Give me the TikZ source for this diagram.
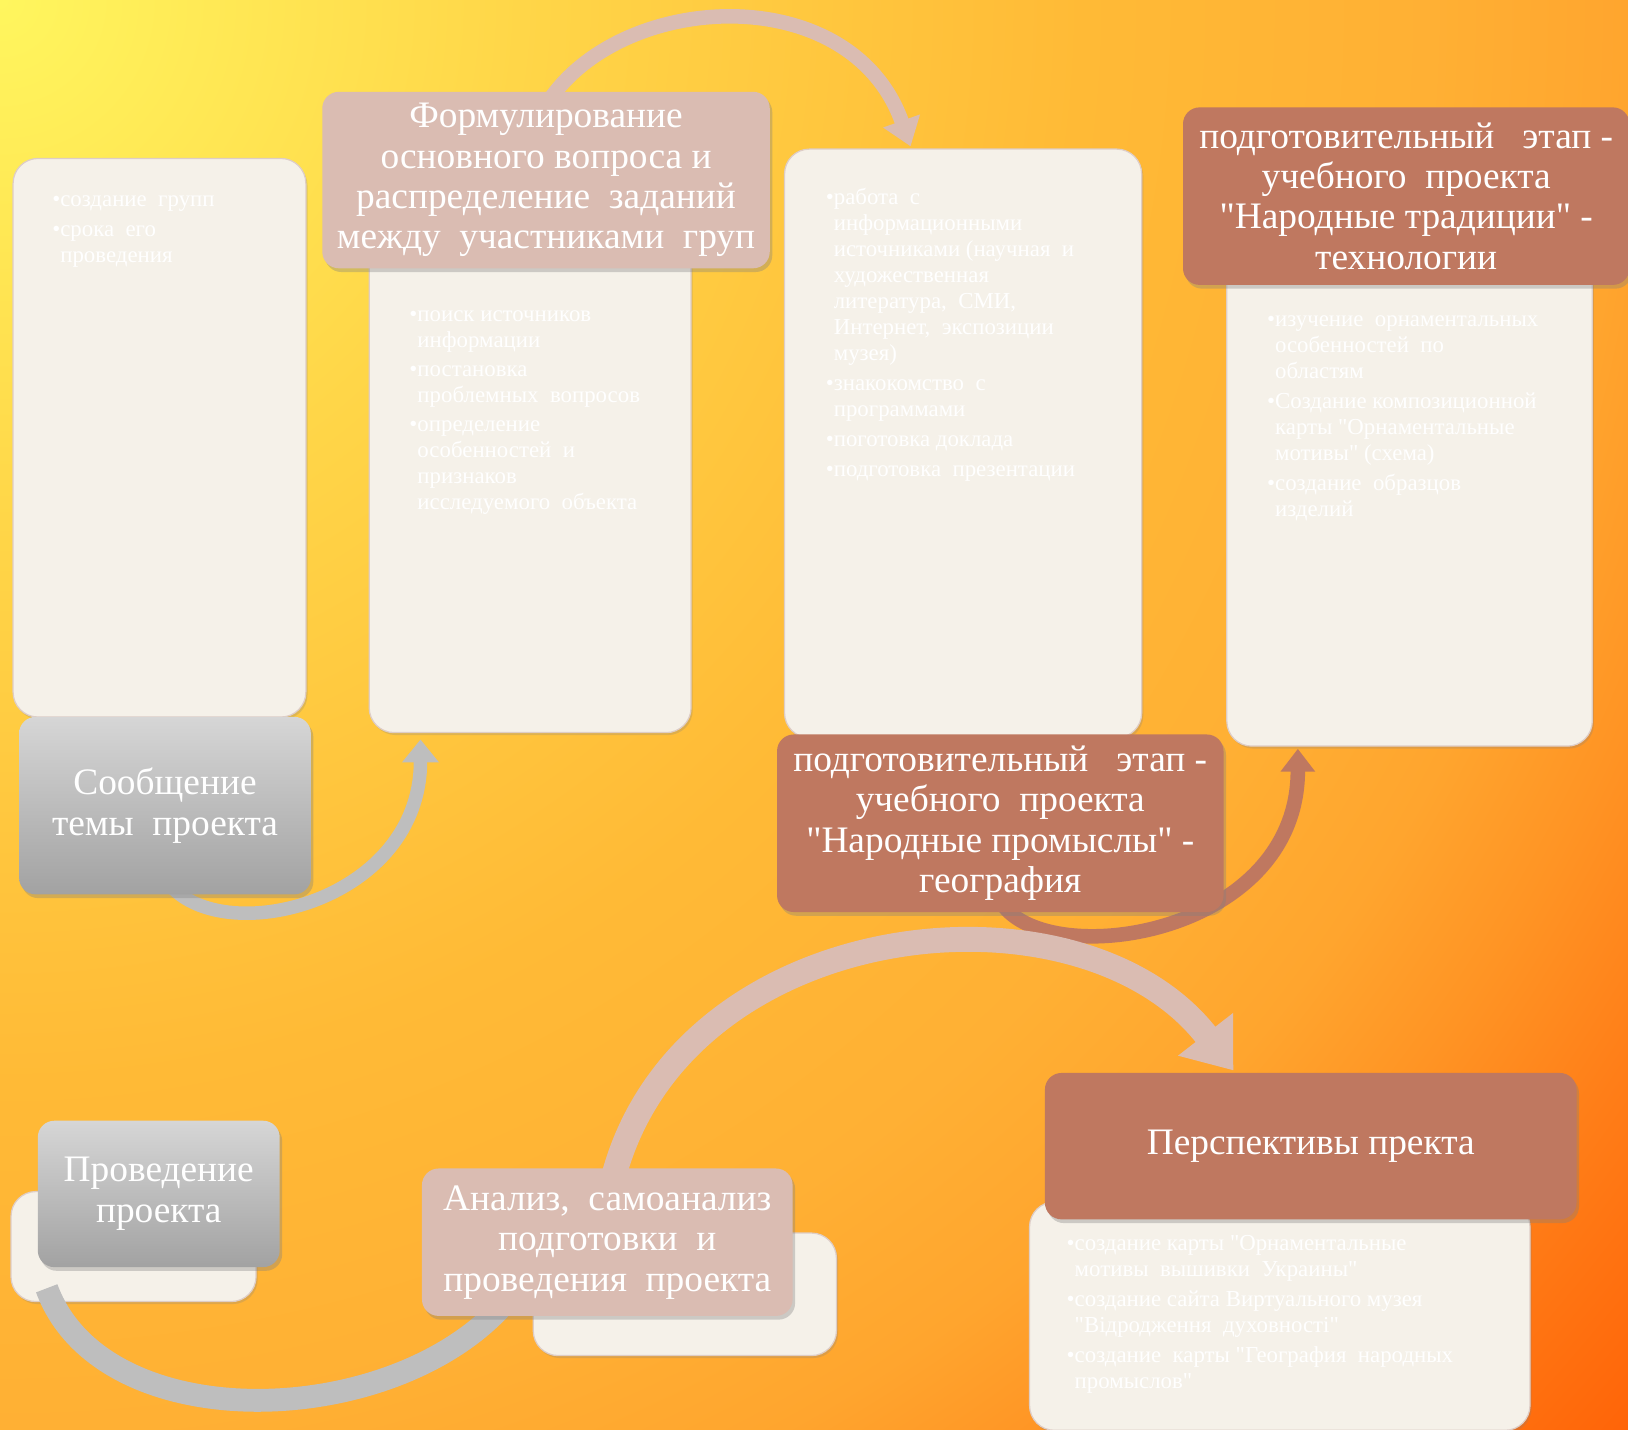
\documentclass[tikz,border=0pt]{standalone}
\usepackage{fontspec}
\setmainfont{Liberation Serif}[Ligatures=TeXOff]
\usetikzlibrary{arrows.meta, positioning, calc, shadows, backgrounds}

\pgfdeclarelayer{cards}
\pgfdeclarelayer{links}
\pgfsetlayers{background,cards,links,main}

% Background glow, from the top left corner
\definecolor{bgA}{RGB}{255,246,94}
\definecolor{bgB}{RGB}{255,214,72}
\definecolor{bgC}{RGB}{255,186,54}
\definecolor{bgD}{RGB}{255,176,52}
\definecolor{bgE}{RGB}{255,165,46}
\definecolor{bgF}{RGB}{255,148,36}
\definecolor{bgG}{RGB}{255,126,24}
\definecolor{bgH}{RGB}{255,100,8}
\pgfdeclareradialshading{bgglow}{\pgfpoint{0bp}{0bp}}{color(0bp)=(bgA); color(6bp)=(bgB); color(12.5bp)=(bgC); color(16.5bp)=(bgD); color(18.8bp)=(bgE); color(20.5bp)=(bgF); color(22.4bp)=(bgG); color(25bp)=(bgH); color(50bp)=(bgH)}

\newcommand{\bl}{\textbullet}
\newcommand{\ind}{\hphantom{\textbullet}}

\begin{document}
\begin{tikzpicture}[x=0.5pt, y=-0.5pt,
    card/.style={rectangle, rounded corners=12pt, draw=cardline, line width=0.6pt, fill=cardcolor, inner sep=0pt, anchor=north west,
        drop shadow={shadow xshift=0.8pt, shadow yshift=-1.2pt, opacity=0.25}},
    head/.style={rectangle, rounded corners=8pt, inner sep=0pt, anchor=north west, text=white, align=center,
        font=\fontsize{18}{19.5}\selectfont,
        drop shadow={shadow xshift=1.2pt, shadow yshift=-1.8pt, opacity=0.35}},
    greyhead/.style={head, top color=greytop, bottom color=greybot},
    pinkhead/.style={head, fill=pinkcolor},
    brownhead/.style={head, fill=browncolor},
    note/.style={anchor=north west, inner sep=0pt, text=white, align=left, font=\fontsize{11}{12.5}\selectfont},
    flow/.style={line cap=butt}]

    % Define colors
    \definecolor{cardcolor}{RGB}{245,241,233}
    \definecolor{cardline}{RGB}{222,205,198}
    \definecolor{greytop}{RGB}{214,214,214}
    \definecolor{greybot}{RGB}{162,162,162}
    \definecolor{pinkcolor}{RGB}{218,188,178}
    \definecolor{browncolor}{RGB}{191,120,96}
    \definecolor{greyband}{RGB}{190,190,190}

    % Background
    \useasboundingbox (0,0) rectangle (1568,1377);
    \begin{pgfonlayer}{background}
    \begin{scope}
    \clip (0,0) rectangle (1568,1377);
    \shade[shading=bgglow] (0,0) circle[radius=2087];
    \end{scope}
    \end{pgfonlayer}

    % Cards
    \begin{pgfonlayer}{cards}
    \node[card, minimum width=141pt, minimum height=269pt] (c1) at (12,152) {};
    \node[card, minimum width=155pt, minimum height=235pt] (c2) at (355,235) {};
    \node[card, minimum width=172pt, minimum height=283.5pt] (c3) at (755,143) {};
    \node[card, minimum width=176pt, minimum height=234pt] (c4) at (1181,250) {};
    \node[card, minimum width=118pt, minimum height=53pt] (c5) at (10,1147) {};
    \node[card, minimum width=146pt, minimum height=59pt] (c6) at (513,1187) {};
    \node[card, minimum width=241pt, minimum height=110pt] (c7) at (991,1157) {};
    \end{pgfonlayer}

    % Stage titles
    \node[greyhead, minimum width=140.5pt, minimum height=85.5pt] (t1) at (18,690) {Сообщение\\темы~ проекта};
    \node[pinkhead, minimum width=215.5pt, minimum height=85pt] (t2) at (310,88) {Формулирование\\основного вопроса и\\распределение~ заданий\\между~ участниками~ груп};
    \node[brownhead, minimum width=215pt, minimum height=85.5pt] (t3) at (748,707) {подготовительный~~ этап -\\учебного~ проекта\\"Народные промыслы" -\\география};
    \node[brownhead, minimum width=215pt, minimum height=85.5pt] (t4) at (1139,103) {подготовительный~~ этап -\\учебного~ проекта\\"Народные традиции" -\\технологии};
    \node[greyhead, minimum width=116.5pt, minimum height=70.5pt] (t5) at (36,1079) {Проведение\\проекта};
    \node[pinkhead, minimum width=178.5pt, minimum height=71pt] (t6) at (406,1125) {Анализ,~ самоанализ\\подготовки~ и\\проведения~ проекта};
    \node[brownhead, minimum width=256pt, minimum height=70.5pt] (t7) at (1006,1033) {Перспективы пректа};

    % Card texts
    \node[note] (n1) at ([xshift=19pt, yshift=-18pt]c1.north west) {\bl создание~ групп\\[2pt]\bl срока~ его\\\ind проведения};
    \node[note] (n2) at ([xshift=19.5pt, yshift=-32pt]c2.north west) {\bl поиск источников\\\ind информации\\[1.5pt]\bl постановка\\\ind проблемных~ вопросов\\[1.5pt]\bl определение\\\ind особенностей~ и\\\ind признаков\\\ind исследуемого~ объекта};
    \node[note] (n3) at ([xshift=20pt, yshift=-19pt]c3.north west) {\bl работа~ с\\\ind информационными\\\ind источниками (научная~ и\\\ind художественная\\\ind литература,~ СМИ,\\\ind Интернет,~ экспозиции\\\ind музея)\\[2pt]\bl знакокомство~ с\\\ind программами\\[2pt]\bl поготовка доклада\\[2pt]\bl подготовка~ презентации};
    \node[note] (n4) at ([xshift=19.5pt, yshift=-27pt]c4.north west) {\bl изучение~ орнаментальных\\\ind особенностей~ по\\\ind областям\\[2pt]\bl Создание композиционной\\\ind карты "Орнаментальные\\\ind мотивы" (схема)\\[2pt]\bl создание~ образцов\\\ind изделий};
    \node[note] (n7) at ([xshift=18pt, yshift=-16pt]c7.north west) {\bl создание карты "Орнаментальные\\\ind мотивы~ вышивки~ Украины"\\[2pt]\bl создание сайта Виртуального музея\\\ind "Відродження~ духовності"\\[2pt]\bl создание~ карты "География~ народных\\\ind промыслов"};

    % Arrows between the stages
    \begin{pgfonlayer}{links}
    \draw[flow, draw=greyband, line width=6.5pt, -{Triangle[length=11pt, width=17pt]}]
        ([xshift=3pt, yshift=4pt]t1.south) .. controls +(55,60) and +(0,155) .. ([xshift=25pt, yshift=-3pt]c2.south west);
    \draw[flow, draw=pinkcolor, line width=7pt, -{Triangle[length=13pt, width=18pt]}]
        ([xshift=109pt, yshift=-5pt]t2.north west) .. controls +(72,-108) and +(-57,-161) .. ([xshift=61pt, yshift=1pt]c3.north west);
    \draw[flow, draw=browncolor, line width=7pt, -{Triangle[length=11pt, width=16pt]}]
        ([xshift=1pt, yshift=4pt]t3.south) .. controls +(45,65) and +(0,180) .. ([xshift=34.5pt, yshift=-1pt]c4.south west);
    \draw[flow, draw=pinkcolor, line width=12pt, -{Triangle[length=22pt, width=32pt]}]
        ([xshift=92pt, yshift=-6pt]t6.north west) .. controls +(65,-257) and +(-148,-191) .. ([xshift=91pt, yshift=1pt]t7.north west);
    \draw[flow, draw=greyband, line width=11pt]
        ([xshift=4.5pt, yshift=-10pt]t5.south west) .. controls +(55,150) and +(-100,135) .. ([xshift=45pt, yshift=12.5pt]t6.south west);
    \end{pgfonlayer}

\end{tikzpicture}
\end{document}
